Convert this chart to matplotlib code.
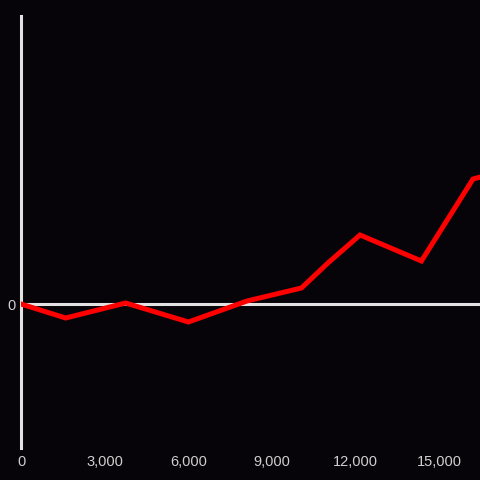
import matplotlib.pyplot as plt
import matplotlib.ticker as mticker

# DATA
x_vals = [0, 1600, 3750, 6000, 8100, 10050, 11000, 12150, 14350, 16200, 17000]
y_vals = [0, -14, 1, -18, 3, 16, 41, 69, 43, 125, 131]
x_ticks = [0, 3000, 6000, 9000, 12000, 15000]

BG = '#060409'
AXIS = '#e2e2e2'
TEXT = '#cfcfcf'

plt.rcParams['font.family'] = ['Liberation Sans', 'DejaVu Sans']

fig = plt.figure(figsize=(4.8, 4.8), dpi=100, facecolor=BG)
ax = fig.add_axes([21 / 480, 32 / 480, 1 - 21 / 480, 432 / 480], facecolor=BG)

ax.axhline(0, color=AXIS, lw=2.2, zorder=1)
ax.plot(x_vals, y_vals, color='#ff0000', lw=3.6, solid_joinstyle='miter', zorder=3, clip_on=True)

ax.set_xlim(0, 16450)
ax.set_ylim(-144, 288)

for s in ['top', 'right', 'bottom']:
    ax.spines[s].set_visible(False)
ax.spines['left'].set_color(AXIS)
ax.spines['left'].set_linewidth(2.2)

ax.set_xticks(x_ticks)
ax.xaxis.set_major_formatter(mticker.FuncFormatter(lambda v, p: f'{int(v):,}'))
ax.set_yticks([0])
ax.tick_params(axis='both', length=0, colors=TEXT, labelsize=10.5)
ax.tick_params(axis='x', pad=5)
ax.tick_params(axis='y', pad=4)

fig.savefig('out.png', dpi=100, facecolor=BG)
